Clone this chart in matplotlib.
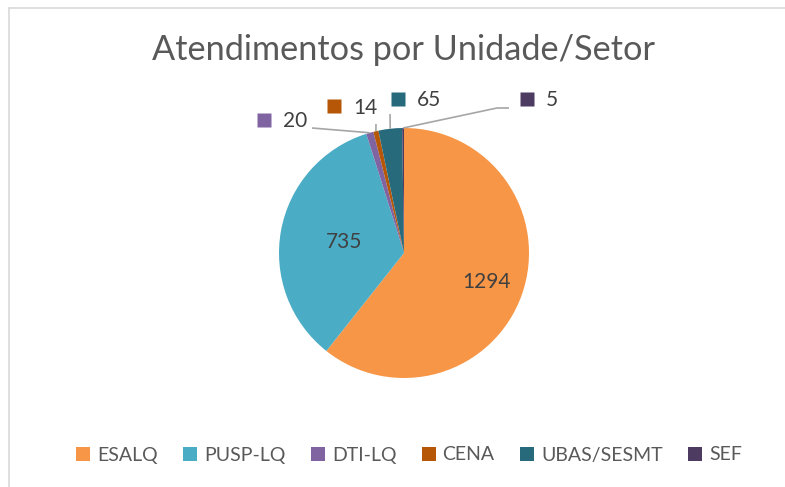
import numpy as np
import matplotlib.pyplot as plt
from matplotlib.patches import Patch
from matplotlib.lines import Line2D

plt.rcParams['font.family'] = ['Lato', 'DejaVu Sans']

# dados do grafico
setores = ['ESALQ', 'PUSP-LQ', 'DTI-LQ', 'CENA', 'UBAS/SESMT', 'SEF']
atendimentos = [1294, 735, 20, 14, 65, 5]
cores = ['#F79646', '#4BACC6', '#8064A2', '#B65708', '#276A7C', '#4D3B62']
titulo = 'Atendimentos por Unidade/Setor'

W, H = 785, 487
cx, cy, R = 404, 253, 125  # centro e raio da pizza em pixels

fig = plt.figure(figsize=(W / 100, H / 100), dpi=100)
ax = fig.add_axes([0, 0, 1, 1])

wedges, _ = ax.pie(atendimentos, colors=cores, startangle=90,
                   counterclock=False, radius=1)
ax.set_xlim(-cx / R, (W - cx) / R)
ax.set_ylim((cy - H) / R, cy / R)
ax.set_aspect('auto')
ax.axis('off')


def px(x, y):
    # pixel da imagem -> coordenadas do eixo
    return (x - cx) / R, (cy - y) / R


def meio(w):
    return np.deg2rad((w.theta1 + w.theta2) / 2)


# rotulos dentro das fatias grandes
dist_dentro = {0: 0.70, 1: 0.49}
for i, d in dist_dentro.items():
    a = meio(wedges[i])
    ax.text(d * np.cos(a), d * np.sin(a), str(atendimentos[i]),
            ha='center', va='center', fontsize=15, color='#404040')

# rotulos fora, com linha guia (posicao do texto e pontos da linha em pixels)
fora = {
    2: ((283, 121.5), [(312, 128)]),
    3: ((353, 107.5), [(376, 124)]),
    4: ((417, 100), [(390, 114)]),
    5: ((546, 100.5), [(497, 108), (509, 108)]),
}
for i, (pos, pontos) in fora.items():
    a = meio(wedges[i])
    xs = [np.cos(a)] + [px(*p)[0] for p in pontos]
    ys = [np.sin(a)] + [px(*p)[1] for p in pontos]
    ax.plot(xs, ys, color='#A6A6A6', lw=1.2, solid_capstyle='butt')
    tx, ty = px(*pos)
    ax.text(tx, ty, str(atendimentos[i]), ha='left', va='center',
            fontsize=15, color='#404040')
    sx, sy = px(pos[0] - 19, pos[1] - 1)
    ax.plot(sx, sy, marker='s', ms=10, color=cores[i], mec='none')

# titulo ajustado a largura da referencia
t = fig.text(cx / W, 1 - 60 / H, titulo, ha='center', va='baseline',
             fontsize=20, color='#595959')
r = fig.canvas.get_renderer()
larg = t.get_window_extent(r).width
t.set_fontsize(20 * 504 / larg)

# legenda
alcas = [Patch(facecolor=c, edgecolor='none') for c in cores]
fig.legend(alcas, setores, loc='center', bbox_to_anchor=(409 / W, 1 - 455 / H),
           ncol=6, frameon=False, fontsize=14, handlelength=0.72,
           handleheight=0.72, handletextpad=0.36, columnspacing=1.3,
           labelcolor='#595959')

# borda da area do grafico
fig.add_artist(Line2D([9 / W, 9 / W], [0, 1 - 8 / H], color='#D9D9D9', lw=1.2))
fig.add_artist(Line2D([9 / W, 1], [1 - 8 / H, 1 - 8 / H], color='#D9D9D9', lw=1.2))

fig.savefig('out.png', dpi=100)
